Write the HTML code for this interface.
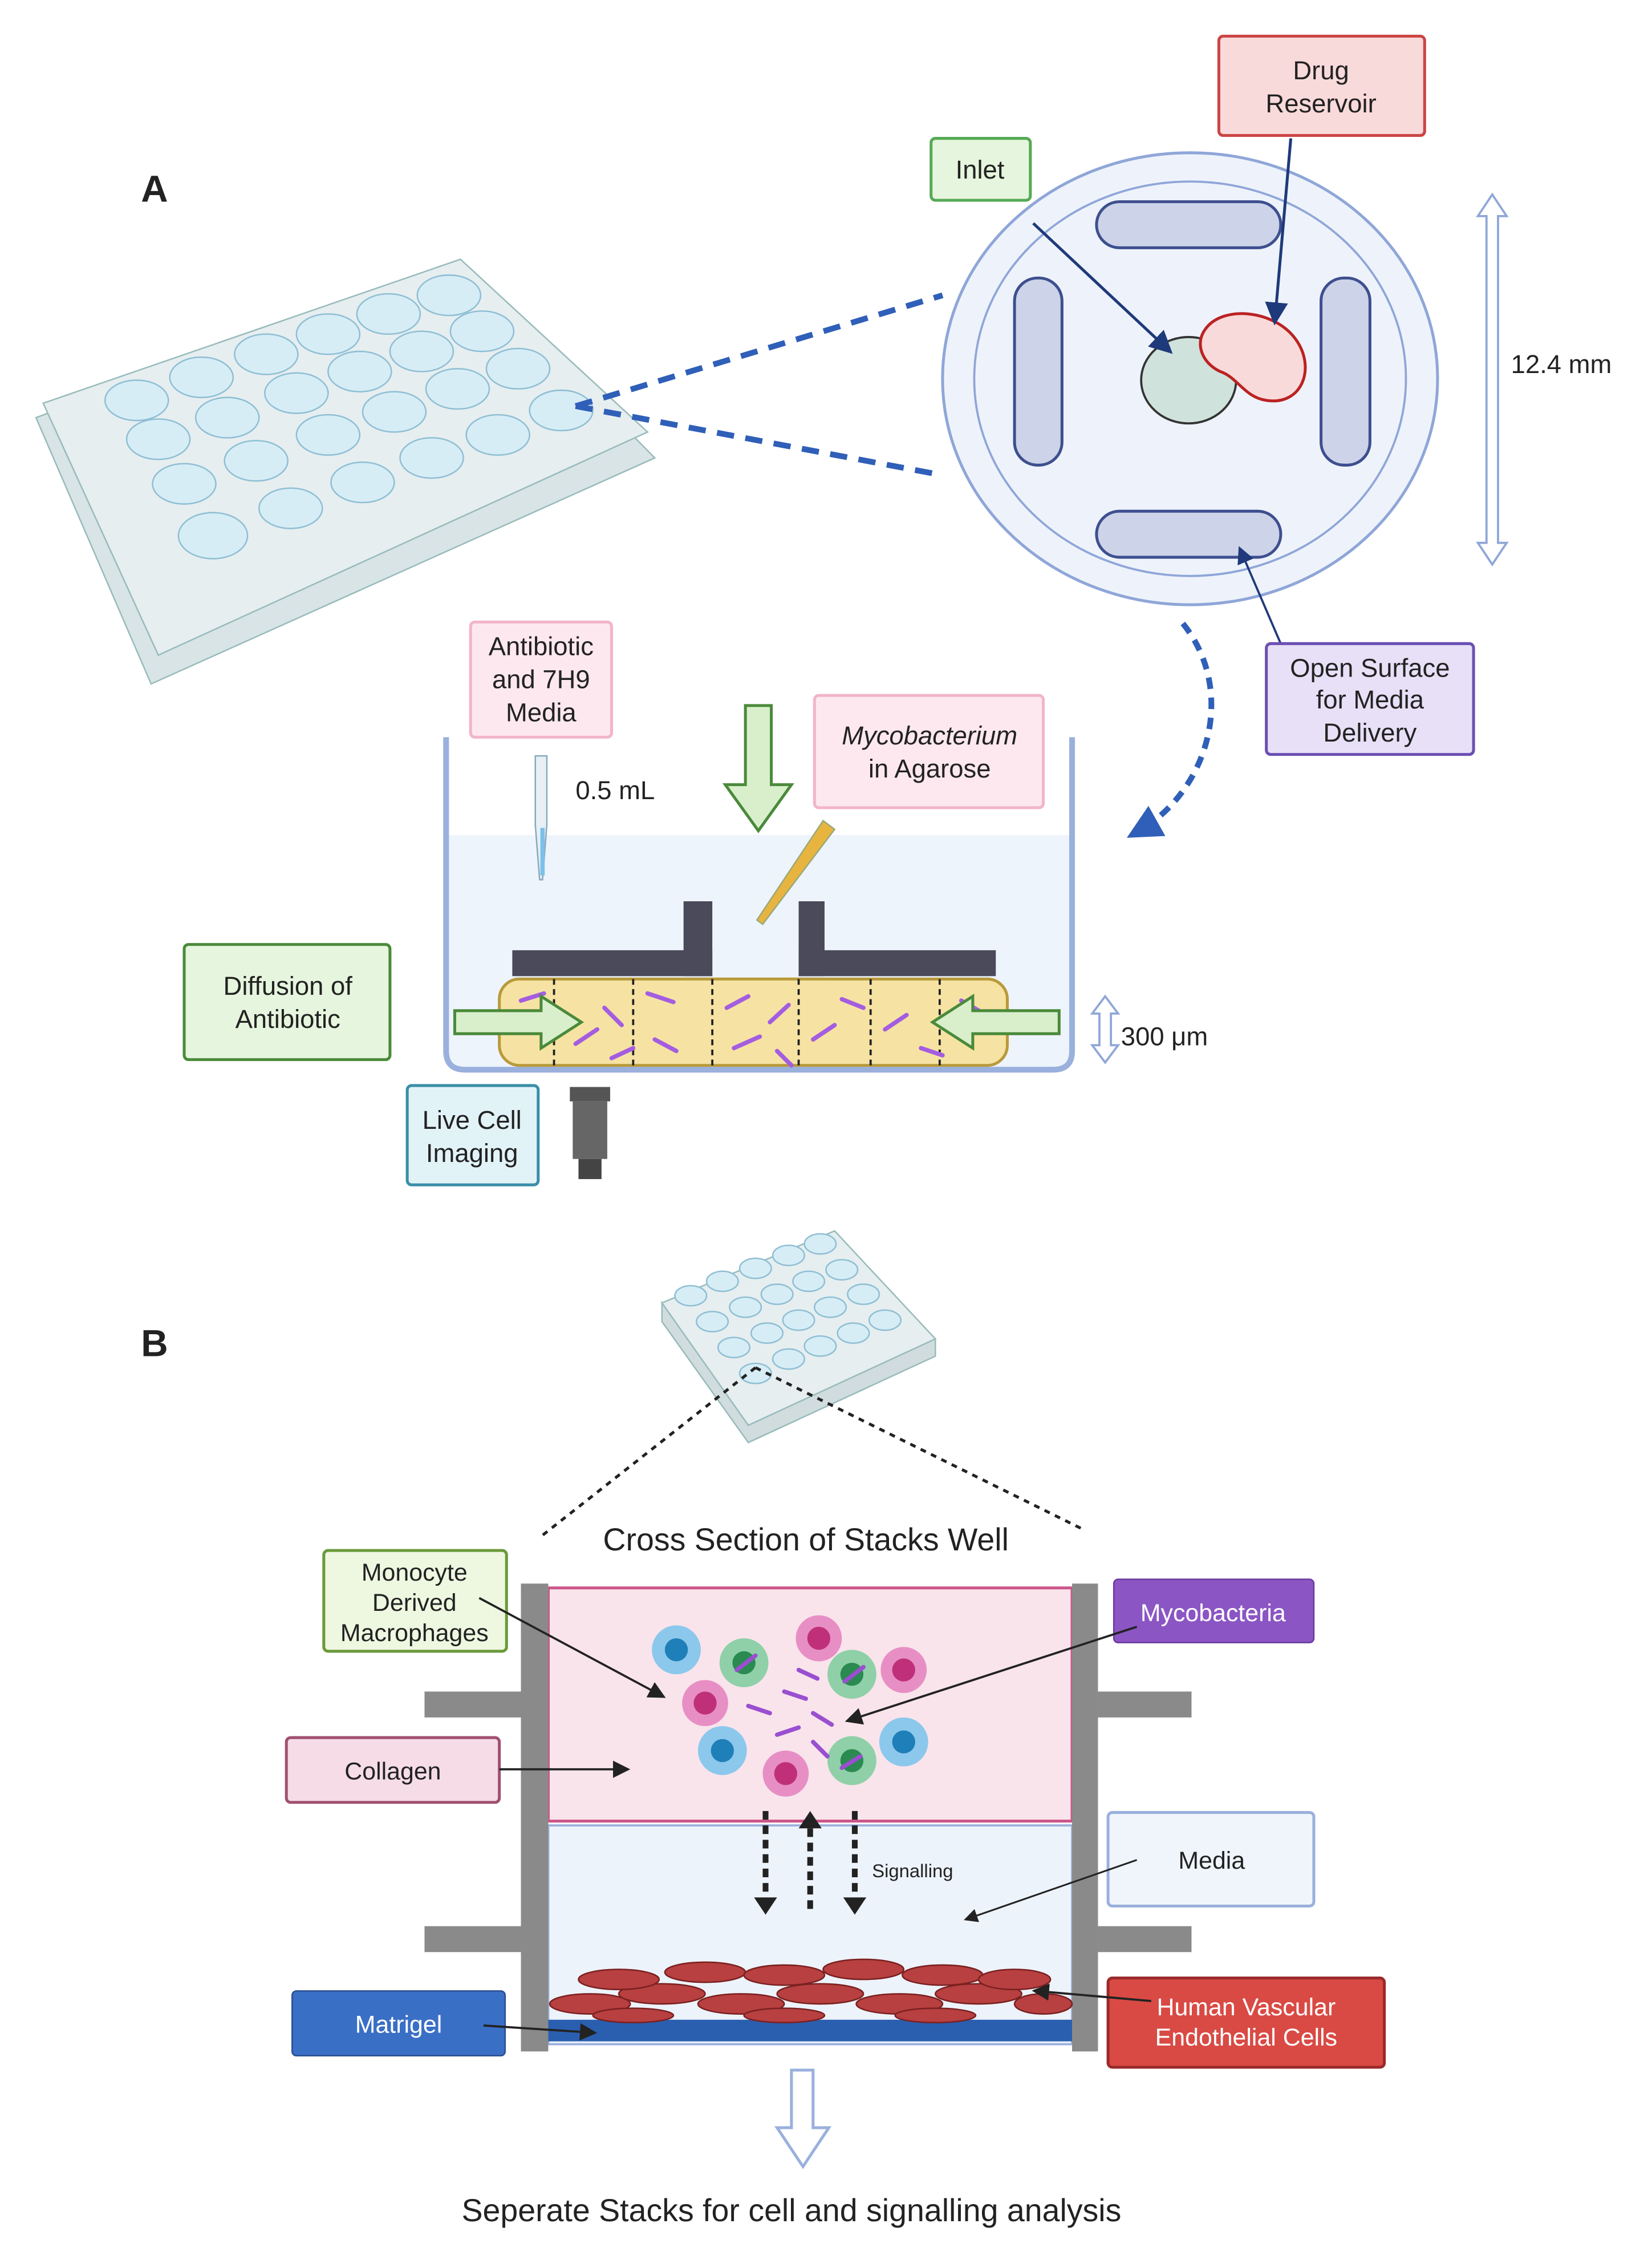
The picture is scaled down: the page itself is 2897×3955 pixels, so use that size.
<!DOCTYPE html>
<html><head><meta charset="utf-8"><style>html,body{margin:0;padding:0;background:#fff}svg{display:block}text{font-family:"Liberation Sans",sans-serif;fill:#222}</style></head>
<body>
<svg width="2897" height="3955" viewBox="0 0 1148 1567" xmlns="http://www.w3.org/2000/svg">
<defs>
<marker id="ah" markerWidth="8" markerHeight="8" refX="6" refY="4" orient="auto"><path d="M0,0 L8,4 L0,8 z" fill="#1f3a7a"/></marker>
<marker id="ak" markerWidth="8" markerHeight="8" refX="6" refY="4" orient="auto"><path d="M0,0 L8,4 L0,8 z" fill="#222"/></marker>
<marker id="ab" markerWidth="6" markerHeight="6" refX="4" refY="3" orient="auto"><path d="M0,0 L6,3 L0,6 z" fill="#2f5fb8"/></marker>
</defs>
<rect width="1148" height="1567" fill="#fff"/>
<text x="98" y="140" font-size="26" font-weight="bold">A</text>
<text x="98" y="942" font-size="26" font-weight="bold">B</text>

<!-- plate A -->
<g>
<polygon points="25,290 320,180 455,318 105,475" fill="#d8e4e6" stroke="#9bb"/>
<polygon points="30,280 320,180 450,300 110,455" fill="#e6eef0" stroke="#9bb"/>
<g fill="#d7edf6" stroke="#8fbfd4">
<ellipse cx="95" cy="278" rx="22" ry="14"/><ellipse cx="140" cy="262" rx="22" ry="14"/><ellipse cx="185" cy="246" rx="22" ry="14"/><ellipse cx="228" cy="232" rx="22" ry="14"/><ellipse cx="270" cy="218" rx="22" ry="14"/><ellipse cx="312" cy="205" rx="22" ry="14"/>
<ellipse cx="110" cy="305" rx="22" ry="14"/><ellipse cx="158" cy="290" rx="22" ry="14"/><ellipse cx="206" cy="273" rx="22" ry="14"/><ellipse cx="250" cy="258" rx="22" ry="14"/><ellipse cx="293" cy="244" rx="22" ry="14"/><ellipse cx="335" cy="230" rx="22" ry="14"/>
<ellipse cx="128" cy="336" rx="22" ry="14"/><ellipse cx="178" cy="320" rx="22" ry="14"/><ellipse cx="228" cy="302" rx="22" ry="14"/><ellipse cx="274" cy="286" rx="22" ry="14"/><ellipse cx="318" cy="270" rx="22" ry="14"/><ellipse cx="360" cy="256" rx="22" ry="14"/>
<ellipse cx="148" cy="372" rx="24" ry="16"/><ellipse cx="202" cy="353" rx="22" ry="14"/><ellipse cx="252" cy="335" rx="22" ry="14"/><ellipse cx="300" cy="318" rx="22" ry="14"/><ellipse cx="346" cy="302" rx="22" ry="14"/><ellipse cx="390" cy="285" rx="22" ry="14"/>
</g></g>
<line x1="400" y1="282" x2="655" y2="205" stroke="#2f5fb8" stroke-width="4" stroke-dasharray="12,8"/>
<line x1="400" y1="282" x2="655" y2="330" stroke="#2f5fb8" stroke-width="4" stroke-dasharray="12,8"/>

<!-- circle -->
<ellipse cx="827" cy="263" rx="172" ry="157" fill="#eef3fb" stroke="#8fa6d8" stroke-width="2"/>
<ellipse cx="827" cy="263" rx="150" ry="137" fill="#eef3fb" stroke="#8fa6d8" stroke-width="1.5"/>
<g fill="#cdd3e8" stroke="#3d4f8e" stroke-width="2">
<rect x="762" y="140" width="128" height="32" rx="16"/><rect x="762" y="355" width="128" height="32" rx="16"/>
<rect x="705" y="193" width="33" height="130" rx="16"/><rect x="918" y="193" width="34" height="130" rx="16"/>
</g>
<ellipse cx="826" cy="264" rx="33" ry="30" fill="#cfe3dc" stroke="#333" stroke-width="1.5"/>
<path d="M838,228 C850,212 885,215 900,235 C915,255 905,282 880,278 C865,276 860,262 848,258 C835,252 830,238 838,228 Z" fill="#f9dada" stroke="#b22" stroke-width="2"/>
<rect x="847" y="25" width="143" height="69" rx="3" fill="#f9dada" stroke="#c44" stroke-width="2"/>
<text x="918" y="55" font-size="18" text-anchor="middle">Drug</text><text x="918" y="78" font-size="18" text-anchor="middle">Reservoir</text>
<rect x="647" y="96" width="69" height="43" rx="3" fill="#e6f5dd" stroke="#5a5" stroke-width="2"/>
<text x="681" y="124" font-size="18" text-anchor="middle">Inlet</text>
<line x1="718" y1="155" x2="812" y2="243" stroke="#1f3a7a" stroke-width="2" marker-end="url(#ah)"/>
<line x1="897" y1="96" x2="886" y2="222" stroke="#1f3a7a" stroke-width="2" marker-end="url(#ah)"/>
<line x1="890" y1="447" x2="862" y2="382" stroke="#1f3a7a" stroke-width="1.5" marker-end="url(#ah)"/>
<path d="M1037,135 l-10,15 h6 v227 h-6 l10,15 l10,-15 h-6 v-227 h6 z" fill="#fff" stroke="#8fa6d8" stroke-width="1.5"/>
<text x="1050" y="259" font-size="18">12.4 mm</text>
<rect x="880" y="447" width="144" height="77" rx="3" fill="#e7e0f7" stroke="#6b4fb3" stroke-width="2"/>
<text x="952" y="470" font-size="18" text-anchor="middle">Open Surface</text><text x="952" y="492" font-size="18" text-anchor="middle">for Media</text><text x="952" y="515" font-size="18" text-anchor="middle">Delivery</text>
<path d="M822,433 C860,480 840,550 790,578" fill="none" stroke="#2f5fb8" stroke-width="4" stroke-dasharray="8,6" marker-end="url(#ab)"/>

<!-- well cross section -->
<path d="M310,580 V730 Q310,743 323,743 H732 Q745,743 745,730 V580 Z" fill="#eef4fc"/>
<path d="M310,512 V730 Q310,743 323,743 H732 Q745,743 745,730 V512" fill="none" stroke="#9ab0dd" stroke-width="4"/>
<g fill="#4a4a5a"><rect x="356" y="660" width="139" height="18"/><rect x="475" y="626" width="20" height="52"/><rect x="555" y="660" width="137" height="18"/><rect x="555" y="626" width="18" height="52"/></g>
<rect x="347" y="680" width="353" height="60" rx="14" fill="#f6e3a3" stroke="#b89a3a" stroke-width="2"/>
<g stroke="#222" stroke-width="1.5" stroke-dasharray="4,3"><line x1="385" y1="680" x2="385" y2="740"/><line x1="440" y1="680" x2="440" y2="740"/><line x1="495" y1="680" x2="495" y2="740"/><line x1="555" y1="680" x2="555" y2="740"/><line x1="605" y1="680" x2="605" y2="740"/><line x1="653" y1="680" x2="653" y2="740"/></g>
<g stroke="#a45de0" stroke-width="3" stroke-linecap="round">
<line x1="362" y1="695" x2="378" y2="690"/><line x1="400" y1="725" x2="415" y2="715"/><line x1="420" y1="700" x2="432" y2="712"/><line x1="450" y1="690" x2="468" y2="696"/><line x1="455" y1="722" x2="470" y2="730"/><line x1="505" y1="700" x2="520" y2="692"/><line x1="510" y1="728" x2="528" y2="720"/><line x1="535" y1="710" x2="548" y2="698"/><line x1="565" y1="722" x2="580" y2="712"/><line x1="585" y1="694" x2="600" y2="700"/><line x1="615" y1="715" x2="630" y2="705"/><line x1="640" y1="728" x2="655" y2="733"/><line x1="668" y1="695" x2="682" y2="703"/><line x1="540" y1="730" x2="550" y2="740"/><line x1="425" y1="735" x2="440" y2="728"/></g>
<path d="M316,702 h60 v-10 l28,18 l-28,18 v-10 h-60 z" fill="#d9efcc" stroke="#4a8a3a" stroke-width="2"/>
<path d="M736,702 h-60 v-10 l-28,18 l28,18 v-10 h60 z" fill="#d9efcc" stroke="#4a8a3a" stroke-width="2"/>
<path d="M518,490 h18 v55 h14 l-23,32 l-23,-32 h14 z" fill="#d9efcc" stroke="#4a8a3a" stroke-width="2"/>
<path d="M372,525 h8 v48 l-3,38 h-2 l-3,-38 z" fill="#e8f0f6" stroke="#8ab"/>
<line x1="377" y1="575" x2="377" y2="608" stroke="#7cc0e8" stroke-width="3"/>
<path d="M572,570 l8,6 l-50,66 l-4,-3 z" fill="#e8b440" stroke="#9a7"/>
<rect x="327" y="432" width="98" height="80" rx="3" fill="#fde8ef" stroke="#f2b5c8" stroke-width="2"/>
<text x="376" y="455" font-size="18" text-anchor="middle">Antibiotic</text><text x="376" y="478" font-size="18" text-anchor="middle">and 7H9</text><text x="376" y="501" font-size="18" text-anchor="middle">Media</text>
<text x="400" y="555" font-size="18">0.5 mL</text>
<rect x="566" y="483" width="159" height="78" rx="3" fill="#fde8ef" stroke="#f2b5c8" stroke-width="2"/>
<text x="646" y="517" font-size="18" text-anchor="middle" font-style="italic">Mycobacterium</text><text x="646" y="540" font-size="18" text-anchor="middle">in Agarose</text>
<rect x="128" y="656" width="143" height="80" rx="3" fill="#e6f5dd" stroke="#4a8a3a" stroke-width="2"/>
<text x="200" y="691" font-size="18" text-anchor="middle">Diffusion of</text><text x="200" y="714" font-size="18" text-anchor="middle">Antibiotic</text>
<rect x="283" y="754" width="91" height="69" rx="3" fill="#e2f3f8" stroke="#3b8fa8" stroke-width="2"/>
<text x="328" y="784" font-size="18" text-anchor="middle">Live Cell</text><text x="328" y="807" font-size="18" text-anchor="middle">Imaging</text>
<rect x="396" y="755" width="28" height="10" fill="#555"/><rect x="398" y="765" width="24" height="40" fill="#666"/><rect x="402" y="805" width="16" height="14" fill="#444"/>
<path d="M768,692 l-9,12 h5 v22 h-5 l9,12 l9,-12 h-5 v-22 h5 z" fill="#fff" stroke="#8fa6d8" stroke-width="1.5"/>
<text x="779" y="726" font-size="18">300 μm</text>

<!-- B plate -->
<polygon points="460,905 580,855 650,930 520,1000" fill="#e6eef0" stroke="#9bb"/>
<polygon points="460,905 460,918 520,1002 650,942 650,930 520,990" fill="#d0dcde" stroke="#9bb"/>
<g fill="#d7edf6" stroke="#8fbfd4">
<ellipse cx="480" cy="900" rx="11" ry="7"/><ellipse cx="502" cy="890" rx="11" ry="7"/><ellipse cx="525" cy="881" rx="11" ry="7"/><ellipse cx="548" cy="872" rx="11" ry="7"/><ellipse cx="570" cy="864" rx="11" ry="7"/>
<ellipse cx="495" cy="918" rx="11" ry="7"/><ellipse cx="518" cy="908" rx="11" ry="7"/><ellipse cx="540" cy="899" rx="11" ry="7"/><ellipse cx="562" cy="890" rx="11" ry="7"/><ellipse cx="585" cy="882" rx="11" ry="7"/>
<ellipse cx="510" cy="936" rx="11" ry="7"/><ellipse cx="533" cy="926" rx="11" ry="7"/><ellipse cx="555" cy="917" rx="11" ry="7"/><ellipse cx="577" cy="908" rx="11" ry="7"/><ellipse cx="600" cy="899" rx="11" ry="7"/>
<ellipse cx="525" cy="954" rx="11" ry="7"/><ellipse cx="548" cy="944" rx="11" ry="7"/><ellipse cx="570" cy="935" rx="11" ry="7"/><ellipse cx="593" cy="926" rx="11" ry="7"/><ellipse cx="615" cy="917" rx="11" ry="7"/></g>
<line x1="525" y1="950" x2="375" y2="1068" stroke="#222" stroke-width="2" stroke-dasharray="4,4"/>
<line x1="525" y1="950" x2="752" y2="1062" stroke="#222" stroke-width="2" stroke-dasharray="4,4"/>
<text x="560" y="1077" font-size="22" text-anchor="middle">Cross Section of Stacks Well</text>

<!-- stack -->
<rect x="381" y="1103" width="364" height="162" fill="#f9e4ec" stroke="#c58" stroke-width="2"/>
<rect x="381" y="1268" width="364" height="152" fill="#edf3fb" stroke="#9ab0dd" stroke-width="1.5"/>
<rect x="381" y="1403" width="364" height="15" fill="#2a5fb0"/>
<g fill="#8a8a8a"><rect x="362" y="1100" width="19" height="325"/><rect x="745" y="1100" width="18" height="325"/>
<rect x="295" y="1175" width="67" height="18"/><rect x="763" y="1175" width="65" height="18"/><rect x="295" y="1338" width="67" height="18"/><rect x="763" y="1338" width="65" height="18"/></g>
<g fill="#b84040" stroke="#7a2020" stroke-width="1">
<ellipse cx="410" cy="1392" rx="28" ry="7"/><ellipse cx="460" cy="1385" rx="30" ry="7"/><ellipse cx="515" cy="1392" rx="30" ry="7"/><ellipse cx="570" cy="1385" rx="30" ry="7"/><ellipse cx="625" cy="1392" rx="30" ry="7"/><ellipse cx="680" cy="1385" rx="30" ry="7"/><ellipse cx="725" cy="1392" rx="20" ry="7"/>
<ellipse cx="430" cy="1375" rx="28" ry="7"/><ellipse cx="490" cy="1370" rx="28" ry="7"/><ellipse cx="545" cy="1372" rx="28" ry="7"/><ellipse cx="600" cy="1368" rx="28" ry="7"/><ellipse cx="655" cy="1372" rx="28" ry="7"/><ellipse cx="705" cy="1375" rx="25" ry="7"/>
<ellipse cx="440" cy="1400" rx="28" ry="5"/><ellipse cx="545" cy="1400" rx="28" ry="5"/><ellipse cx="650" cy="1400" rx="28" ry="5"/></g>
<g>
<circle cx="470" cy="1146" r="17" fill="#8cc8ec"/><circle cx="470" cy="1146" r="8" fill="#1f7fb8"/>
<circle cx="502" cy="1216" r="17" fill="#8cc8ec"/><circle cx="502" cy="1216" r="8" fill="#1f7fb8"/>
<circle cx="628" cy="1210" r="17" fill="#8cc8ec"/><circle cx="628" cy="1210" r="8" fill="#1f7fb8"/>
<circle cx="490" cy="1183" r="16" fill="#e78fc4"/><circle cx="490" cy="1183" r="8" fill="#c0307a"/>
<circle cx="569" cy="1138" r="16" fill="#e78fc4"/><circle cx="569" cy="1138" r="8" fill="#c0307a"/>
<circle cx="628" cy="1160" r="16" fill="#e78fc4"/><circle cx="628" cy="1160" r="8" fill="#c0307a"/>
<circle cx="546" cy="1232" r="16" fill="#e78fc4"/><circle cx="546" cy="1232" r="8" fill="#c0307a"/>
<circle cx="517" cy="1155" r="17" fill="#8fd0a8"/><circle cx="517" cy="1155" r="8" fill="#2a8a50"/>
<circle cx="592" cy="1163" r="17" fill="#8fd0a8"/><circle cx="592" cy="1163" r="8" fill="#2a8a50"/>
<circle cx="592" cy="1223" r="17" fill="#8fd0a8"/><circle cx="592" cy="1223" r="8" fill="#2a8a50"/>
</g>
<g stroke="#9a4fd0" stroke-width="3" stroke-linecap="round">
<line x1="512" y1="1160" x2="525" y2="1150"/><line x1="587" y1="1168" x2="600" y2="1158"/><line x1="545" y1="1175" x2="560" y2="1180"/><line x1="565" y1="1190" x2="578" y2="1198"/><line x1="520" y1="1185" x2="535" y2="1190"/><line x1="540" y1="1205" x2="555" y2="1200"/><line x1="565" y1="1210" x2="575" y2="1220"/><line x1="585" y1="1228" x2="598" y2="1220"/><line x1="555" y1="1160" x2="568" y2="1166"/></g>
<g stroke="#222" stroke-width="4" stroke-dasharray="6,4"><line x1="532" y1="1258" x2="532" y2="1318"/><line x1="594" y1="1258" x2="594" y2="1318"/><line x1="563" y1="1270" x2="563" y2="1330"/></g>
<path d="M524,1318 h16 l-8,12 z M586,1318 h16 l-8,12 z M555,1270 h16 l-8,-12 z" fill="#222"/>
<text x="606" y="1304" font-size="13">Signalling</text>

<rect x="225" y="1077" width="127" height="70" rx="3" fill="#eef7e0" stroke="#6a9a3a" stroke-width="2"/>
<text x="288" y="1098" font-size="17" text-anchor="middle">Monocyte</text><text x="288" y="1119" font-size="17" text-anchor="middle">Derived</text><text x="288" y="1140" font-size="17" text-anchor="middle">Macrophages</text>
<line x1="333" y1="1110" x2="460" y2="1178" stroke="#222" stroke-width="1.5" marker-end="url(#ak)"/>
<rect x="774" y="1097" width="139" height="44" rx="3" fill="#8b55c4" stroke="#6a3aa0"/>
<text x="843" y="1126" font-size="17" text-anchor="middle" style="fill:#fff">Mycobacteria</text>
<line x1="790" y1="1130" x2="590" y2="1195" stroke="#222" stroke-width="1.5" marker-end="url(#ak)"/>
<rect x="199" y="1207" width="148" height="45" rx="3" fill="#f5dce6" stroke="#a05070" stroke-width="2"/>
<text x="273" y="1236" font-size="17" text-anchor="middle">Collagen</text>
<line x1="347" y1="1229" x2="435" y2="1229" stroke="#222" stroke-width="1.5" marker-end="url(#ak)"/>
<rect x="770" y="1259" width="143" height="65" rx="3" fill="#f0f5fc" stroke="#9ab0dd" stroke-width="2"/>
<text x="842" y="1298" font-size="17" text-anchor="middle">Media</text>
<line x1="790" y1="1292" x2="672" y2="1333" stroke="#222" stroke-width="1.2" marker-end="url(#ak)"/>
<rect x="203" y="1383" width="148" height="45" rx="3" fill="#3a6fc6" stroke="#2a4f90"/>
<text x="277" y="1412" font-size="17" text-anchor="middle" style="fill:#fff">Matrigel</text>
<line x1="336" y1="1407" x2="412" y2="1412" stroke="#222" stroke-width="1.5" marker-end="url(#ak)"/>
<rect x="770" y="1374" width="192" height="62" rx="3" fill="#d94a44" stroke="#9a2a2a" stroke-width="2"/>
<text x="866" y="1400" font-size="17" text-anchor="middle" style="fill:#fff">Human Vascular</text><text x="866" y="1421" font-size="17" text-anchor="middle" style="fill:#fff">Endothelial Cells</text>
<line x1="800" y1="1390" x2="720" y2="1383" stroke="#222" stroke-width="1.5" marker-end="url(#ak)"/>
<path d="M550,1438 h15 v40 h11 l-18,27 l-18,-27 h10 z" fill="#fff" stroke="#9ab0dd" stroke-width="2"/>
<text x="550" y="1543" font-size="22" text-anchor="middle">Seperate Stacks for cell and signalling analysis</text>
</svg>
</body></html>
